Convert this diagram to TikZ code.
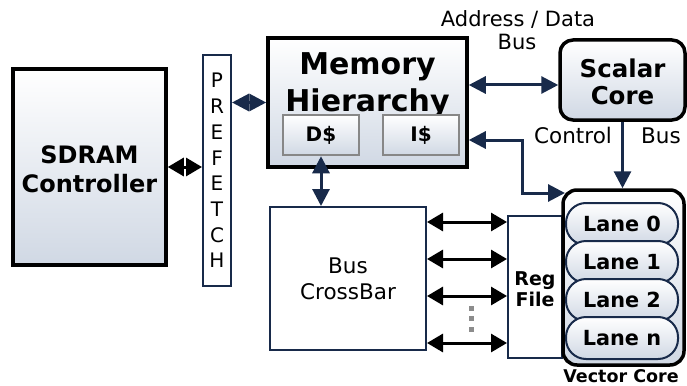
\documentclass[tikz,border=0pt]{standalone}
\usepackage{fontspec}
\setmainfont{DejaVu Sans}
\usetikzlibrary{arrows.meta}
\definecolor{navy}{RGB}{24,42,74}
\definecolor{gradbot}{RGB}{208,216,228}
\definecolor{cachegray}{RGB}{135,135,135}
\definecolor{dotgray}{RGB}{140,140,140}
\newcommand{\fs}[1]{\fontsize{#1}{#1}\selectfont}
\tikzset{
  blockbox/.style={draw=black, line width=3.5pt, top color=white, bottom color=gradbot, inner sep=0pt},
  plainbox/.style={draw=navy, line width=2pt, fill=white, inner sep=0pt},
  cachebox/.style={draw=cachegray, line width=2.5pt, top color=white, bottom color=gradbot, inner sep=0pt,
    minimum width=76pt, minimum height=40pt, font=\bfseries\fs{20}},
  lanebox/.style={draw=navy, line width=2pt, top color=white, bottom color=gradbot, inner sep=0pt,
    minimum width=112pt, minimum height=42pt, rounded corners=20pt, font=\bfseries\fs{20.8}},
  txt/.style={inner sep=0pt, anchor=base},
  bib/.style={{Triangle[length=16pt,width=18pt]}-{Triangle[length=16pt,width=18pt]}, line width=3pt, draw=black},
  bin/.style={{Triangle[length=17pt,width=17pt]}-{Triangle[length=17pt,width=17pt]}, line width=3pt, draw=navy},
  onen/.style={-{Triangle[length=17pt,width=17pt]}, line width=3pt, draw=navy},
}
\begin{document}
\begin{tikzpicture}[x=1pt,y=-1pt]
\useasboundingbox (0,0) rectangle (687,385);

% SDRAM controller
\node[blockbox, minimum width=153pt, minimum height=196pt] (sdram) at (89.5,167) {};
\node[txt, font=\bfseries\fs{24}] (sdramA) at (89.5,163) {SDRAM};
\node[txt, font=\bfseries\fs{24}] (sdramB) at (89.5,192) {Controller};

% Prefetch buffer
\node[plainbox, minimum width=28pt, minimum height=231pt] (pref) at (217,170.5) {};
\foreach \ch [count=\i from 0] in {P,R,E,F,E,T,C,H}
  \node[txt, font=\fs{20}] (pf\i) at (217,88+25.7*\i) {\ch};

% Memory hierarchy
\node[blockbox, minimum width=199pt, minimum height=129pt] (mem) at (367.5,102.5) {};
\node[txt, font=\bfseries\fs{30}] (memA) at (367.5,75) {Memory};
\node[txt, font=\bfseries\fs{30}] (memB) at (367.5,111) {Hierarchy};
\node[cachebox] (dcache) at (321,135) {D\$};
\node[cachebox] (icache) at (421,135) {I\$};

% Bus crossbar
\node[plainbox, minimum width=156pt, minimum height=143pt] (xbar) at (348,278.5) {};
\node[txt, font=\fs{21.5}] (xbarA) at (348,273) {Bus};
\node[txt, font=\fs{21.5}] (xbarB) at (348,299) {CrossBar};

% Register file
\node[plainbox, minimum width=54pt, minimum height=142pt] (reg) at (535,287) {};
\node[txt, font=\bfseries\fs{19}] (regA) at (535,285) {Reg};
\node[txt, font=\bfseries\fs{19}] (regB) at (535,306) {File};

% Scalar core
\node[blockbox, rounded corners=13pt, minimum width=125pt, minimum height=80pt] (scalar) at (622.5,80) {};
\node[txt, font=\bfseries\fs{24.5}] (scalarA) at (622.5,78) {Scalar};
\node[txt, font=\bfseries\fs{24.5}] (scalarB) at (622.5,104) {Core};

% Vector core with its lanes
\node[blockbox, rounded corners=14pt, minimum width=121pt, minimum height=175pt] (vec) at (623.5,277.5) {};
\node[lanebox] (lane0) at (622,224) {Lane 0};
\node[lanebox] (lane1) at (622,262) {Lane 1};
\node[lanebox] (lane2) at (622,300) {Lane 2};
\node[lanebox] (lanen) at (622,338) {Lane n};
\node[txt, font=\bfseries\fs{17.5}] (veclbl) at (621,382) {Vector Core};

% Bus labels
\node[txt, font=\fs{21}] (adA) at (518,27) {Address / Data};
\node[txt, font=\fs{21}] (adB) at (517,50) {Bus};
\node[txt, font=\fs{21.5}] (ctlA) at (573,143) {Control};
\node[txt, font=\fs{21.5}] (ctlB) at (661,143) {Bus};

% Connectors
\coordinate (adbus) at (0,85);
\coordinate (ibusA) at (522,140);
\coordinate (ibusB) at (522,193);
\coordinate (ibusC) at (565,193);
\draw[bib] (sdram.east) -- (sdram.east -| pref.west);
\draw[bin] (pref.east |- mem.west) -- (mem.west);
\draw[bin] (mem.east |- adbus) -- (scalar.west |- adbus);
\draw[bin] (dcache.south) -- (dcache.south |- xbar.north);
\draw[bin] (mem.east |- ibusA) -- (ibusA) -- (ibusB) -- (ibusC);
\draw[onen] (scalar.south) -- (scalar.south |- vec.north);

\foreach \yy [count=\k] in {222,259,296,343} {
  \coordinate (xl\k) at (0,\yy);
  \draw[bib] (xbar.east |- xl\k) -- (reg.west |- xl\k);
}
\foreach \yy [count=\k] in {308,318.5,329}
  \fill[dotgray] (468.5,\yy-2.5) rectangle (473.5,\yy+2.5);
\end{tikzpicture}
\end{document}
